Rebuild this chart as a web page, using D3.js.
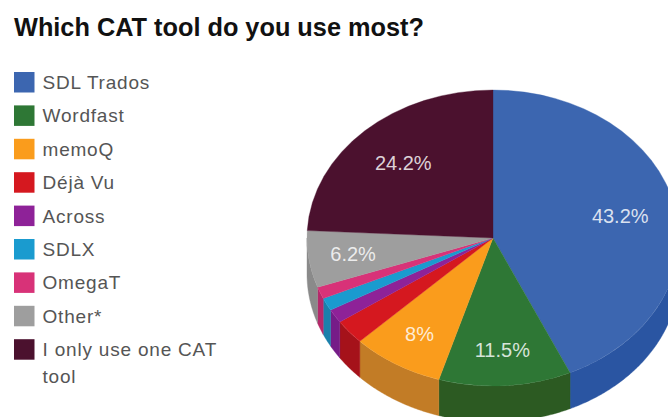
<!DOCTYPE html>
<html>
<head>
<meta charset="utf-8">
<script src="https://cdn.jsdelivr.net/npm/d3@7/dist/d3.min.js"></script>
<style>
  html, body { margin: 0; padding: 0; background: #fff; overflow: hidden; }
  text { font-family: "Liberation Sans", Arial, sans-serif; }
</style>
</head>
<body>
<svg id="chart" width="668" height="417"></svg>
<script>
const chartTitle = "Which CAT tool do you use most?";
const tools = ["SDL Trados", "Wordfast", "memoQ", "Déjà Vu", "Across", "SDLX", "OmegaT", "Other*", "I only use one CAT tool"];
const shares = [43.2, 11.5, 8, 2.7, 1.5, 1.4, 1.3, 6.2, 24.2];
const shareLabels = ["43.2%", "11.5%", "8%", "", "", "", "", "6.2%", "24.2%"];
const topColors = ["#3c66b0", "#2e7735", "#fa9c1c", "#d5181f", "#8e2298", "#1a9bcf", "#d83278", "#9e9e9e", "#4b112e"];
const wallColors = ["#2a55a2", "#2c5a22", "#c27c26", "#a5121a", "#761c88", "#1a80ab", "#b5286a", "#8a8a8a", "#3a0d24"];

const width = 668, height = 417;
const cx = 493, cy = 238, rx = 186, ry = 148, depth = 36;

const svg = d3.select("#chart");

svg.append("text")
  .attr("x", 14).attr("y", 36)
  .attr("font-size", 25.3).attr("font-weight", "bold").attr("fill", "#111")
  .text(chartTitle);

// Slices run clockwise from twelve o'clock, in the order of the legend.
const arcs = d3.pie().sort(null).value(d => d)(shares);
const rim = (angle, drop = 0) => [cx + rx * Math.sin(angle), cy - ry * Math.cos(angle) + drop];

// Walls of the tilted disc: only the part of a slice facing the viewer shows.
const outline = d3.line();
const pie = svg.append("g");
arcs.forEach((a, i) => {
  const from = Math.max(a.startAngle, Math.PI / 2);
  const to = Math.min(a.endAngle, Math.PI * 1.5);
  if (to <= from) return;
  const steps = d3.range(from, to, 0.01).concat([to]);
  const points = steps.map(t => rim(t)).concat(steps.slice().reverse().map(t => rim(t, depth)));
  pie.append("path").attr("d", outline(points) + "Z")
    .attr("fill", wallColors[i]).attr("stroke", wallColors[i]).attr("stroke-width", 0.4);
});

// Top face: a circular arc squashed into an ellipse.
const arcPath = d3.arc().innerRadius(0).outerRadius(rx);
pie.append("g")
  .attr("transform", `translate(${cx},${cy}) scale(1,${ry / rx})`)
  .selectAll("path").data(arcs).join("path")
  .attr("d", arcPath)
  .attr("fill", (d, i) => topColors[i])
  .attr("stroke", (d, i) => topColors[i]).attr("stroke-width", 0.4);

// Share labels sit a little further out on the front half of the disc.
arcs.forEach((a, i) => {
  if (!shareLabels[i]) return;
  const mid = (a.startAngle + a.endAngle) / 2;
  const k = Math.cos(mid) < 0 ? 0.76 : 0.7;
  svg.append("text")
    .attr("x", cx + k * rx * Math.sin(mid))
    .attr("y", cy - k * ry * Math.cos(mid))
    .attr("dy", "0.36em")
    .attr("text-anchor", "middle")
    .attr("font-size", 20).attr("fill", "#fff").attr("fill-opacity", 0.82)
    .text(shareLabels[i]);
});

// Legend column; the long last entry wraps on to a second line.
const legendY = d3.scalePoint().domain(tools).range([72, 339.2]);
const legend = svg.append("g").selectAll("g").data(tools).join("g")
  .attr("transform", d => `translate(14,${legendY(d)})`);
legend.append("rect")
  .attr("width", 20.5).attr("height", 20.5)
  .attr("fill", (d, i) => topColors[i]);
const legendText = legend.append("text")
  .attr("x", 28.5).attr("y", 17)
  .attr("font-size", 19).attr("letter-spacing", 0.8).attr("fill", "#555");
legendText.each(function (d) {
  const words = d.length > 20 ? [d.slice(0, 18), d.slice(19)] : [d];
  d3.select(this).selectAll("tspan").data(words).join("tspan")
    .attr("x", 28.5).attr("dy", (w, j) => j ? 26.5 : 0).text(w => w);
});
</script>
</body>
</html>
